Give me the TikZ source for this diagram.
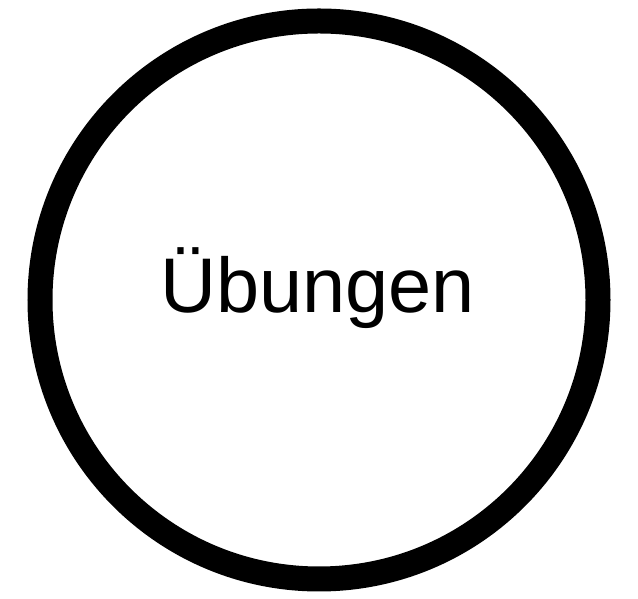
\documentclass[tikz,border=0pt]{standalone}
\usepackage{fontspec}
\setmainfont{Liberation Sans}
\begin{document}
\begin{tikzpicture}[x=1pt,y=1pt]
	\useasboundingbox (0,0) rectangle (638,599);
	\draw [line width=25pt] (319,299) circle (279pt);
	
	\node (uebungen) at (317.5,286) [anchor=base, inner sep=0pt, font=\fontsize{77.5}{93}\selectfont] {Übungen};
\end{tikzpicture}
\end{document}
